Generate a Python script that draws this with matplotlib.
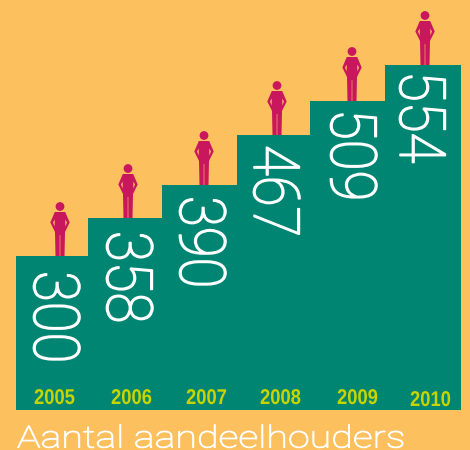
import matplotlib
matplotlib.use("Agg")
import matplotlib.pyplot as plt
from matplotlib.path import Path
from matplotlib.patches import PathPatch, Circle
from matplotlib.patheffects import AbstractPathEffect
from matplotlib.transforms import Affine2D

years = ["2005", "2006", "2007", "2008", "2009", "2010"]
shareholders = ["300", "358", "390", "467", "509", "554"]
# step heights as drawn in the picture (the steps are not to a linear scale)
step_heights = [154, 192, 225, 275, 309, 345]

# layout (pixels)
BG, TEAL, RED, YEL = "#FDC05F", "#008573", "#C8175D", "#C8D400"
step_edges = [16, 88, 162, 237, 310, 385, 461]
person_x = [60, 128, 204, 277, 352, 425]
number_x = [52, 125, 198, 272, 349, 418]
number_drop = [15, 13, 11, 10, 8, 6]
year_left = [34, 111, 186, 260, 337, 410]
year_base = [6, 6, 6, 6, 6, 4]


class Squeeze(AbstractPathEffect):
    """Draw text stretched along its own direction, with an optional outline."""
    def __init__(self, sx, lw=0):
        super().__init__()
        self.sx = sx
        self.lw = lw

    def draw_path(self, renderer, gc, tpath, affine, rgbFace=None):
        gc0 = renderer.new_gc()
        gc0.copy_properties(gc)
        if self.lw:
            gc0.set_linewidth(self.lw)
            gc0.set_foreground(rgbFace)
        renderer.draw_path(gc0, tpath, Affine2D().scale(self.sx, 1) + affine, rgbFace)
        gc0.restore()


fig = plt.figure(figsize=(4.7, 4.5), dpi=100, facecolor=BG)
ax = fig.add_axes([0, 0, 1, 1])
ax.set_xlim(0, 470)
ax.set_ylim(-40, 410)
ax.axis("off")

for i, h in enumerate(step_heights):
    left, right = step_edges[i], step_edges[i + 1]
    ax.bar(left, h, width=right - left, align="edge", color=TEAL, linewidth=0)

body = [(-5.2, 44), (-9.7, 33.5), (-6.2, 26.5), (-5, 24), (-4.5, 0), (-0.3, 0), (-0.3, 21),
        (0.3, 21), (0.3, 0), (4.5, 0), (5, 24), (6.2, 26.5), (9.7, 33.5), (5.2, 44), (-5.2, 44)]
hole_l = [(-7.0, 33.5), (-5.3, 36.5), (-5.3, 29.5), (-7.0, 33.5)]
hole_r = [(7.0, 33.5), (5.3, 29.5), (5.3, 36.5), (7.0, 33.5)]
verts, codes = [], []
for poly in (body, hole_l, hole_r):
    verts += poly
    codes += [Path.MOVETO] + [Path.LINETO] * (len(poly) - 2) + [Path.CLOSEPOLY]
for x, h in zip(person_x, step_heights):
    p = Path([(vx + x, vy + h) for vx, vy in verts], codes)
    ax.add_patch(PathPatch(p, facecolor=RED, edgecolor="none"))
    ax.add_patch(Circle((x, h + 49.5), 4.4, facecolor=RED, edgecolor="none"))

for x, h, drop, s in zip(number_x, step_heights, number_drop, shareholders):
    ax.text(x, h - drop, s, rotation=270, ha="center", va="top", color="white",
            fontsize=46, family="Roboto", fontweight="light",
            path_effects=[Squeeze(0.88, lw=1.1)])

for x, y, s in zip(year_left, year_base, years):
    ax.text(x, y, s, ha="left", va="baseline", color=YEL, fontsize=15.4, fontweight="bold",
            family="Liberation Sans", path_effects=[Squeeze(0.86)])

ax.text(17, -37.5, "Aantal aandeelhouders", ha="left", va="baseline", color="white",
        fontsize=22, family="Roboto", fontweight="light", path_effects=[Squeeze(1.29, lw=0.7)])

fig.savefig("out.png", dpi=100, facecolor=BG)
